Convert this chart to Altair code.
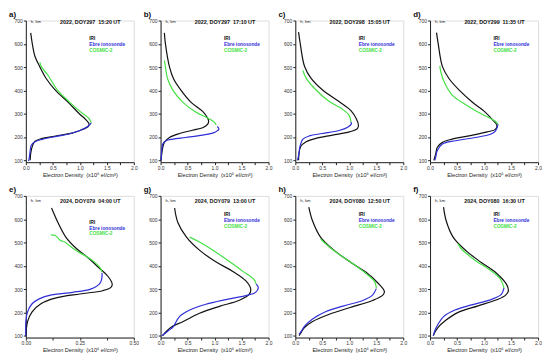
import altair as alt
import pandas as pd

SERIES = ["IRI", "Ebre ionosonde", "COSMIC-2"]
COLORS = ["#111111", "#2f2fd8", "#44e044"]

LETTERS = ["a)", "b)", "c)", "d)", "e)", "g)", "h)", "f)"]
TITLES = ["2022, DOY297\u00a0 15:20 UT", "2022, DOY297\u00a0 17:10 UT",
          "2022, DOY298\u00a0 15:05 UT", "2022, DOY299\u00a0 11:35 UT",
          "2024, DOY079\u00a0 04:00 UT", "2024, DOY079\u00a0 13:00 UT",
          "2024, DOY080\u00a0 12:50 UT", "2024, DOY080\u00a0 16:30 UT"]
XMAX = [2.0, 2.0, 2.0, 2.0, 0.5, 2.0, 2.0, 2.0]
Y_TICKS = [100, 200, 300, 400, 500, 600, 700]

# ---- panel a
A_IRI_NE = [0.09, 0.12, 0.165, 0.26, 0.38, 0.55, 0.78, 0.99, 1.11, 1.17, 1.16, 1.05, 0.87, 0.53, 0.29, 0.17, 0.12, 0.09, 0.08]
A_IRI_H = [647, 600, 549, 501, 450, 400, 350, 300, 275, 257, 246, 232, 218, 203, 193, 182, 160, 130, 100]
A_EBR_NE = [1.21, 1.15, 1.0, 0.8, 0.5, 0.3, 0.17, 0.1, 0.08, 0.06, 0.05]
A_EBR_H = [260, 246, 228, 213, 200, 190, 180, 165, 140, 105, 97]
A_COS_NE = [0.26, 0.29, 0.41, 0.59, 0.81, 1.02, 1.16, 1.2, 1.21]
A_COS_H = [520, 501, 465, 400, 350, 307, 282, 268, 260]
# ---- panel b
B_IRI_NE = [0.07, 0.09, 0.165, 0.24, 0.38, 0.56, 0.78, 0.87, 0.89, 0.87, 0.78, 0.59, 0.35, 0.165, 0.07, 0.03, 0.01]
B_IRI_H = [647, 600, 501, 450, 400, 350, 310, 282, 268, 254, 240, 229, 215, 198, 177, 142, 100]
B_EBR_NE = [1.05, 1.08, 0.99, 0.78, 0.47, 0.23, 0.1, 0.04, 0.02, 0.01]
B_EBR_H = [245, 234, 219, 208, 198, 191, 184, 170, 142, 100]
B_COS_NE = [0.07, 0.09, 0.13, 0.23, 0.41, 0.65, 0.87, 0.99, 1.03]
B_COS_H = [528, 501, 450, 400, 350, 307, 282, 265, 252]
# ---- panel c
C_IRI_NE = [0.06, 0.09, 0.17, 0.29, 0.5, 0.81, 1.03, 1.13, 1.17, 1.15, 1.0, 0.69, 0.38, 0.2, 0.1, 0.06]
C_IRI_H = [650, 603, 504, 453, 403, 352, 313, 278, 250, 236, 222, 208, 194, 180, 159, 100]
C_EBR_NE = [1.03, 1.04, 0.97, 0.81, 0.5, 0.26, 0.14, 0.09, 0.06, 0.04]
C_EBR_H = [264, 257, 242, 228, 215, 205, 191, 163, 120, 100]
C_COS_NE = [0.14, 0.2, 0.38, 0.63, 0.87, 1.0, 1.03]
C_COS_H = [486, 453, 403, 352, 320, 292, 264]
# ---- panel d
D_IRI_NE = [0.12, 0.15, 0.23, 0.35, 0.54, 0.78, 1.0, 1.15, 1.24, 1.21, 1.06, 0.72, 0.41, 0.23, 0.135, 0.105, 0.07]
D_IRI_H = [648, 602, 502, 451, 401, 350, 311, 276, 250, 233, 222, 205, 191, 177, 156, 128, 100]
D_EBR_NE = [1.26, 1.21, 1.12, 0.84, 0.47, 0.23, 0.135, 0.105, 0.09]
D_EBR_H = [254, 225, 212, 198, 184, 170, 142, 114, 100]
D_COS_NE = [0.18, 0.2, 0.26, 0.41, 0.66, 0.97, 1.15, 1.24, 1.26]
D_COS_H = [505, 479, 437, 380, 339, 297, 276, 261, 254]
# ---- panel e
E_IRI_NE = [0.119, 0.152, 0.185, 0.234, 0.291, 0.34, 0.38, 0.40, 0.394, 0.356, 0.25, 0.136, 0.07, 0.029, 0.008, 0.0]
E_IRI_H = [648, 579, 523, 474, 432, 390, 355, 321, 307, 293, 279, 261, 237, 202, 160, 100]
E_EBR_NE = [0.353, 0.351, 0.34, 0.3, 0.217, 0.119, 0.062, 0.029, 0.008, 0.0, 0.0]
E_EBR_H = [369, 342, 321, 300, 286, 275, 258, 237, 202, 160, 100]
E_COS_NE = [0.116, 0.136, 0.16, 0.18, 0.2, 0.242, 0.283, 0.315, 0.345, 0.353]
E_COS_H = [533, 530, 509, 502, 488, 460, 439, 418, 390, 372]
# ---- panel g
G_IRI_NE = [0.26, 0.32, 0.48, 0.72, 1.03, 1.33, 1.58, 1.67, 1.64, 1.46, 1.09, 0.72, 0.42, 0.2, 0.11, 0.04]
G_IRI_H = [648, 586, 523, 467, 416, 377, 335, 300, 277, 252, 226, 196, 161, 137, 119, 100]
G_EBR_NE = [1.77, 1.81, 1.76, 1.58, 1.21, 0.84, 0.54, 0.35, 0.23, 0.17, 0.08, 0.02]
G_EBR_H = [321, 307, 286, 272, 255, 235, 210, 182, 137, 126, 109, 100]
G_COS_NE = [0.54, 0.72, 0.97, 1.27, 1.52, 1.73, 1.77]
G_COS_H = [523, 502, 467, 419, 377, 342, 321]
# ---- panel h
H_IRI_NE = [0.25, 0.32, 0.47, 0.72, 1.03, 1.31, 1.53, 1.65, 1.62, 1.43, 1.0, 0.63, 0.32, 0.16, 0.1, 0.07]
H_IRI_H = [652, 592, 522, 466, 414, 372, 326, 290, 274, 251, 220, 192, 161, 133, 111, 100]
H_EBR_NE = [1.5, 1.43, 1.25, 0.88, 0.57, 0.32, 0.18, 0.12, 0.07]
H_EBR_H = [302, 274, 251, 227, 204, 172, 143, 122, 106]
H_COS_NE = [0.47, 0.53, 0.75, 1.06, 1.31, 1.47, 1.5]
H_COS_H = [515, 501, 459, 410, 367, 332, 304]
# ---- panel f
F_IRI_NE = [0.25, 0.3, 0.43, 0.68, 0.95, 1.23, 1.42, 1.45, 1.4, 1.26, 0.89, 0.52, 0.28, 0.15, 0.09, 0.06]
F_IRI_H = [652, 592, 522, 462, 414, 368, 319, 291, 274, 256, 228, 200, 164, 136, 115, 100]
F_EBR_NE = [1.37, 1.32, 1.14, 0.77, 0.46, 0.25, 0.15, 0.09, 0.06]
F_EBR_H = [305, 277, 256, 232, 210, 182, 150, 122, 100]
F_COS_NE = [0.52, 0.58, 0.83, 1.11, 1.29, 1.35, 1.37]
F_COS_H = [494, 473, 424, 382, 347, 319, 305]

PANELS = [
    (A_IRI_NE, A_IRI_H, A_EBR_NE, A_EBR_H, A_COS_NE, A_COS_H),
    (B_IRI_NE, B_IRI_H, B_EBR_NE, B_EBR_H, B_COS_NE, B_COS_H),
    (C_IRI_NE, C_IRI_H, C_EBR_NE, C_EBR_H, C_COS_NE, C_COS_H),
    (D_IRI_NE, D_IRI_H, D_EBR_NE, D_EBR_H, D_COS_NE, D_COS_H),
    (E_IRI_NE, E_IRI_H, E_EBR_NE, E_EBR_H, E_COS_NE, E_COS_H),
    (G_IRI_NE, G_IRI_H, G_EBR_NE, G_EBR_H, G_COS_NE, G_COS_H),
    (H_IRI_NE, H_IRI_H, H_EBR_NE, H_EBR_H, H_COS_NE, H_COS_H),
    (F_IRI_NE, F_IRI_H, F_EBR_NE, F_EBR_H, F_COS_NE, F_COS_H),
]

W, H = 109, 143
FONT = "Liberation Sans"
XTITLE = "Electron Density\u00a0 (x10\u2076 el/cm\u00b3)"
color_scale = alt.Scale(domain=SERIES, range=COLORS)


def panel(k):
    iri_ne, iri_h, ebr_ne, ebr_h, cos_ne, cos_h = PANELS[k]
    rows = []
    for name, ne, hh in [("IRI", iri_ne, iri_h), ("COSMIC-2", cos_ne, cos_h),
                         ("Ebre ionosonde", ebr_ne, ebr_h)]:
        for i, (a, b) in enumerate(zip(ne, hh)):
            rows.append({"ne": a, "h": b, "s": name, "i": i})
    df = pd.DataFrame(rows)
    xmax = XMAX[k]
    if xmax == 0.5:
        xt = [j * 0.125 for j in range(5)]
        lexpr = "datum.value % 0.25 === 0 ? format(datum.value, '.2f') : ''"
    else:
        xt = [j * 0.25 for j in range(9)]
        lexpr = "datum.value % 0.5 === 0 ? format(datum.value, '.1f') : ''"
    x = alt.X("ne:Q", scale=alt.Scale(domain=[0, xmax], nice=False, zero=False),
              axis=alt.Axis(values=xt, labelExpr=lexpr, title=XTITLE, grid=False,
                            labelFontSize=5, titleFontSize=5.6, titleFontWeight="normal",
                            labelFlush=False, tickSize=2.5, labelPadding=1, titlePadding=2,
                            domainColor="#222", tickColor="#222", labelColor="#333",
                            titleColor="#222", labelFont=FONT, titleFont=FONT))
    y = alt.Y("h:Q", scale=alt.Scale(domain=[92, 700], nice=False, zero=False),
              axis=alt.Axis(values=Y_TICKS, title=None, grid=False, labelFontSize=5,
                            tickSize=2.5, labelPadding=1, domainColor="#222", tickColor="#222",
                            labelColor="#333", labelFont=FONT))
    lines = alt.Chart(df).mark_line(strokeWidth=1.2, interpolate="catmull-rom").encode(
        x=x, y=y,
        color=alt.Color("s:N", scale=color_scale, legend=None),
        detail="s:N",
        order=alt.Order("i:Q"),
    )
    top = 2 if k < 4 else 5
    leg_y = 19 if k != 4 else 27
    ann = [
        alt.Chart(pd.DataFrame({"t": ["h, km"]})).mark_text(
            font=FONT, fontSize=4.2, align="left", baseline="middle", color="#222"
        ).encode(text="t:N", x=alt.value(5), y=alt.value(top)),
        alt.Chart(pd.DataFrame({"t": [TITLES[k]]})).mark_text(
            font=FONT, fontSize=5.4, fontWeight="bold", align="center", baseline="middle", color="#111"
        ).encode(text="t:N", x=alt.value(65), y=alt.value(top)),
        alt.Chart(pd.DataFrame({"t": [LETTERS[k]]})).mark_text(
            font=FONT, fontSize=8, fontWeight="bold", align="left", baseline="alphabetic", color="#111"
        ).encode(text="t:N", x=alt.value(-17), y=alt.value(-4)),
    ]
    for j, s in enumerate(SERIES):
        ann.append(
            alt.Chart(pd.DataFrame({"t": [s]})).mark_text(
                font=FONT, fontSize=4.8, fontWeight="bold", align="left", baseline="middle"
            ).encode(text="t:N", x=alt.value(64), y=alt.value(leg_y + 6 * j),
                     color=alt.Color("t:N", scale=color_scale, legend=None))
        )
    return alt.layer(lines, *ann).properties(width=W, height=H)


chart = alt.concat(*[panel(k) for k in range(8)], columns=4, spacing={"row": 34, "column": 27},
                   bounds="flush").properties(
    padding={"left": 0, "top": 0, "right": 0, "bottom": 0}
).configure_view(stroke=None).configure(font=FONT)

chart.save("out.html", embed_options={"renderer": "svg", "actions": False})
